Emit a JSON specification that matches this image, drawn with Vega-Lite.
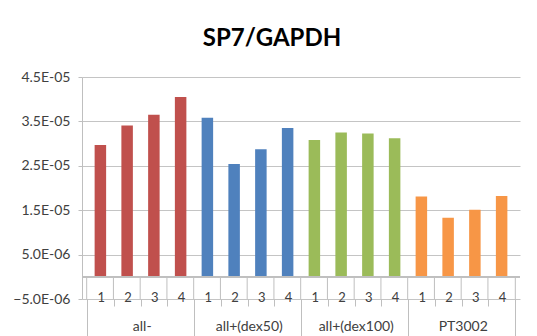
{
  "$schema": "https://vega.github.io/schema/vega-lite/v6.json",
  "autosize": {"type": "none"},
  "padding": {"left": 82, "top": 77, "right": 17, "bottom": 37},
  "width": 438,
  "height": 222,
  "background": "white",
  "title": {"text": "SP7/GAPDH", "font": "Lato", "fontSize": 24, "fontWeight": "bold", "color": "#000000", "anchor": "middle", "offset": 19, "dx": -29},
  "config": {
    "view": {"stroke": null},
    "axis": {"labelFont": "Lato", "labelFontSize": 13, "labelColor": "#404040", "domainColor": "#bfbfbf", "tickColor": "#bfbfbf", "gridColor": "#c4c4c4"}
  },
  "data": {
    "values": [
      {"grp": "all-", "idx": 1, "val": 2.97e-5},
      {"grp": "all-", "idx": 2, "val": 3.41e-5},
      {"grp": "all-", "idx": 3, "val": 3.65e-5},
      {"grp": "all-", "idx": 4, "val": 4.05e-5},
      {"grp": "all+(dex50)", "idx": 5, "val": 3.58e-5},
      {"grp": "all+(dex50)", "idx": 6, "val": 2.54e-5},
      {"grp": "all+(dex50)", "idx": 7, "val": 2.87e-5},
      {"grp": "all+(dex50)", "idx": 8, "val": 3.35e-5},
      {"grp": "all+(dex100)", "idx": 9, "val": 3.08e-5},
      {"grp": "all+(dex100)", "idx": 10, "val": 3.25e-5},
      {"grp": "all+(dex100)", "idx": 11, "val": 3.23e-5},
      {"grp": "all+(dex100)", "idx": 12, "val": 3.12e-5},
      {"grp": "PT3002", "idx": 13, "val": 1.81e-5},
      {"grp": "PT3002", "idx": 14, "val": 1.33e-5},
      {"grp": "PT3002", "idx": 15, "val": 1.51e-5},
      {"grp": "PT3002", "idx": 16, "val": 1.82e-5}
    ]
  },
  "layer": [
    {
      "mark": {"type": "bar", "width": 11.5},
      "encoding": {
        "x": {
          "field": "idx", "type": "quantitative", "title": null,
          "scale": {"domain": [0.5, 16.5], "nice": false, "zero": false},
          "axis": {"orient": "bottom", "values": [0.5, 1.5, 2.5, 3.5, 4.5, 5.5, 6.5, 7.5, 8.5, 9.5, 10.5, 11.5, 12.5, 13.5, 14.5, 15.5, 16.5], "labelExpr": "datum.value > 16 ? '' : '' + (floor(datum.value - 0.5) % 4 + 1)", "labelOffset": 13.69, "tickSize": 7, "labelPadding": -9, "labelBaseline": "middle", "labelFontSize": 13, "labelFlush": false, "labelOverlap": false, "grid": false, "domain": false}
        },
        "y": {
          "field": "val", "type": "quantitative", "title": null,
          "scale": {"domain": [-5e-6, 4.5e-5], "nice": false, "zero": false},
          "axis": {"values": [-5e-6, 5e-6, 1.5e-5, 2.5e-5, 3.5e-5, 4.5e-5], "labelExpr": "replace(format(datum.value, '.1e'), 'e-', 'E-0')", "labelFontSize": 14, "tickSize": 4, "labelPadding": 8, "grid": true}
        },
        "color": {
          "field": "grp", "type": "nominal", "legend": null,
          "scale": {"domain": ["all-", "all+(dex50)", "all+(dex100)", "PT3002"], "range": ["#C0504D", "#4F81BD", "#9BBB59", "#F79646"]}
        }
      }
    },
    {
      "mark": {"type": "rule", "color": "#bfbfbf", "xOffset": -13.69},
      "encoding": {
        "x": {"field": "idx", "type": "quantitative", "axis": null},
        "y": {"datum": 0},
        "y2": {"datum": -5e-6}
      }
    },
    {
      "transform": [{"filter": "datum.idx == 16"}],
      "mark": {"type": "rule", "color": "#bfbfbf", "xOffset": 13.69},
      "encoding": {
        "x": {"field": "idx", "type": "quantitative", "axis": null},
        "y": {"datum": 0},
        "y2": {"datum": -5e-6}
      }
    },
    {
      "mark": {"type": "rule", "color": "#bfbfbf"},
      "encoding": {"y": {"datum": 0}}
    },
    {
      "mark": {"type": "rule", "opacity": 0},
      "encoding": {
        "x": {
          "field": "idx", "type": "quantitative", "title": null,
          "axis": {"orient": "bottom", "values": [0.5, 4.5, 8.5, 12.5, 16.5], "labelExpr": "datum.value < 1 ? 'all-' : datum.value < 5 ? 'all+(dex50)' : datum.value < 9 ? 'all+(dex100)' : datum.value < 13 ? 'PT3002' : ''", "labelOffset": 54.75, "tickSize": 37, "labelPadding": -10, "labelBaseline": "middle", "labelFontSize": 14, "labelFlush": false, "labelOverlap": false, "domain": false, "grid": false}
        }
      }
    }
  ],
  "resolve": {"axis": {"x": "independent"}}
}
